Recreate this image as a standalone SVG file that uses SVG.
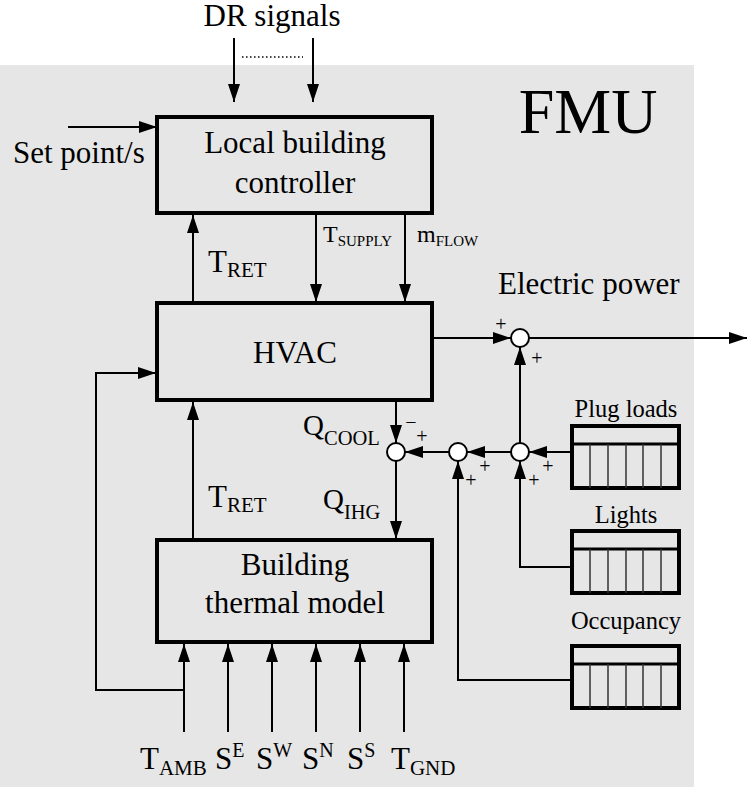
<svg xmlns="http://www.w3.org/2000/svg" width="747" height="787" viewBox="0 0 747 787">
<defs>
<marker id="ah" viewBox="0 0 18 12" refX="18" refY="6" markerWidth="18" markerHeight="12" markerUnits="userSpaceOnUse" orient="auto">
<path d="M0,0 L18,6 L0,12 Z" fill="#000"/>
</marker>
</defs>
<style>
.box{fill:none;stroke:#000;stroke-width:4}
.tbl{fill:none;stroke:#000;stroke-width:4}
.col{stroke:#333;stroke-width:1.5}
.ar{fill:none;stroke:#000;stroke-width:2;marker-end:url(#ah)}
.sj{fill:#fff;stroke:#000;stroke-width:2}
</style>
<rect x="0" y="65" width="694" height="722" fill="#e6e6e6"/>
<g font-family="'Liberation Serif', 'Times New Roman', serif" fill="#000">
<text x="272" y="25.5" font-size="31" text-anchor="middle">DR signals</text>
<text x="588" y="133" font-size="64" text-anchor="middle">FMU</text>
<text x="13" y="163" font-size="31">Set point/s</text>
<text x="498" y="294" font-size="31">Electric power</text>

<g id="controller">
<rect class="box" x="157" y="117" width="275" height="96"/>
<text x="295" y="153" font-size="31" text-anchor="middle">Local building</text>
<text x="295" y="193" font-size="31" text-anchor="middle">controller</text>
</g>
<g id="hvac">
<rect class="box" x="157" y="303" width="275" height="97"/>
<text x="295" y="363" font-size="31" text-anchor="middle">HVAC</text>
</g>
<g id="building">
<rect class="box" x="157" y="540" width="275" height="102"/>
<text x="295" y="575" font-size="31" text-anchor="middle">Building</text>
<text x="295" y="613" font-size="31" text-anchor="middle">thermal model</text>
</g>
<g id="plugloads">
<text x="626" y="417" font-size="24.5" text-anchor="middle">Plug loads</text>
<rect class="tbl" x="572" y="426" width="107" height="62"/>
<line x1="572" y1="444" x2="679" y2="444" stroke="#000" stroke-width="3"/>
<path class="col" d="M590,444V488M608,444V488M626,444V488M643,444V488M661,444V488"/>
</g>
<g id="lights">
<text x="626" y="523" font-size="24.5" text-anchor="middle">Lights</text>
<rect class="tbl" x="572" y="531" width="107" height="62"/>
<line x1="572" y1="549" x2="679" y2="549" stroke="#000" stroke-width="3"/>
<path class="col" d="M590,549V593M608,549V593M626,549V593M643,549V593M661,549V593"/>
</g>
<g id="occupancy">
<text x="626" y="629" font-size="24.5" text-anchor="middle">Occupancy</text>
<rect class="tbl" x="572" y="646" width="107" height="62"/>
<line x1="572" y1="664" x2="679" y2="664" stroke="#000" stroke-width="3"/>
<path class="col" d="M590,664V708M608,664V708M626,664V708M643,664V708M661,664V708"/>
</g>
<g id="sum-power">
<circle class="sj" cx="520" cy="338" r="9"/>
<text x="501" y="331" font-size="20" text-anchor="middle">+</text>
<text x="537" y="365" font-size="20" text-anchor="middle">+</text>
</g>
<g id="sum-q">
<circle class="sj" cx="396" cy="452" r="9"/>
<text x="411" y="429" font-size="20" text-anchor="middle">−</text>
<text x="422" y="443" font-size="20" text-anchor="middle">+</text>
</g>
<g id="sum-2">
<circle class="sj" cx="458" cy="452" r="9"/>
<text x="485" y="473" font-size="20" text-anchor="middle">+</text>
<text x="471" y="487" font-size="20" text-anchor="middle">+</text>
</g>
<g id="sum-3">
<circle class="sj" cx="520" cy="452" r="9"/>
<text x="548" y="473" font-size="20" text-anchor="middle">+</text>
<text x="534" y="487" font-size="20" text-anchor="middle">+</text>
</g>

<g id="connectors">
<line class="ar" x1="234" y1="38" x2="234" y2="102"/>
<line class="ar" x1="313" y1="38" x2="313" y2="102"/>
<line x1="242" y1="57" x2="303" y2="57" stroke="#000" stroke-width="1.5" stroke-dasharray="1.5 2.5"/>
<line class="ar" x1="68" y1="127" x2="157" y2="127"/>
<line class="ar" x1="193" y1="303" x2="193" y2="215"/>
<line class="ar" x1="316" y1="215" x2="316" y2="302"/>
<line class="ar" x1="405" y1="215" x2="405" y2="302"/>
<line class="ar" x1="434" y1="338" x2="511" y2="338"/>
<line class="ar" x1="529" y1="338" x2="747" y2="338"/>
<line class="ar" x1="520" y1="443" x2="520" y2="347"/>
<line class="ar" x1="396" y1="402" x2="396" y2="443"/>
<line class="ar" x1="396" y1="461" x2="396" y2="539"/>
<line class="ar" x1="449" y1="452" x2="405" y2="452"/>
<line class="ar" x1="511" y1="452" x2="467" y2="452"/>
<line class="ar" x1="572" y1="452" x2="529" y2="452"/>
<polyline class="ar" points="572,567 520,567 520,461"/>
<polyline class="ar" points="572,680 458,680 458,461"/>
<line class="ar" x1="193" y1="540" x2="193" y2="402"/>
<polyline class="ar" points="184,690 96,690 96,373 156,373"/>
<line class="ar" x1="184" y1="732" x2="184" y2="644"/>
<line class="ar" x1="228" y1="732" x2="228" y2="644"/>
<line class="ar" x1="272" y1="732" x2="272" y2="644"/>
<line class="ar" x1="316" y1="732" x2="316" y2="644"/>
<line class="ar" x1="360" y1="732" x2="360" y2="644"/>
<line class="ar" x1="404" y1="732" x2="404" y2="644"/>
</g>

<g id="labels">
<text x="208" y="272" font-size="31">T<tspan font-size="21" dy="5">RET</tspan></text>
<text x="208" y="507" font-size="31">T<tspan font-size="21" dy="5">RET</tspan></text>
<text x="323" y="242" font-size="24">T<tspan font-size="15" dy="4">SUPPLY</tspan></text>
<text x="417" y="242" font-size="24">m<tspan font-size="15" dy="4">FLOW</tspan></text>
<text x="303" y="435" font-size="29">Q<tspan font-size="20.5" dy="10">COOL</tspan></text>
<text x="323" y="509" font-size="29">Q<tspan font-size="20.5" dy="10">IHG</tspan></text>
<text x="140" y="769" font-size="31">T<tspan font-size="21" dy="6">AMB</tspan></text>
<text x="215" y="769" font-size="31">S<tspan font-size="20" dy="-12">E</tspan></text>
<text x="256" y="769" font-size="31">S<tspan font-size="20" dy="-12">W</tspan></text>
<text x="302" y="769" font-size="31">S<tspan font-size="20" dy="-12">N</tspan></text>
<text x="347" y="769" font-size="31">S<tspan font-size="20" dy="-12">S</tspan></text>
<text x="391" y="769" font-size="31">T<tspan font-size="21" dy="6">GND</tspan></text>
</g>
</g>
</svg>
